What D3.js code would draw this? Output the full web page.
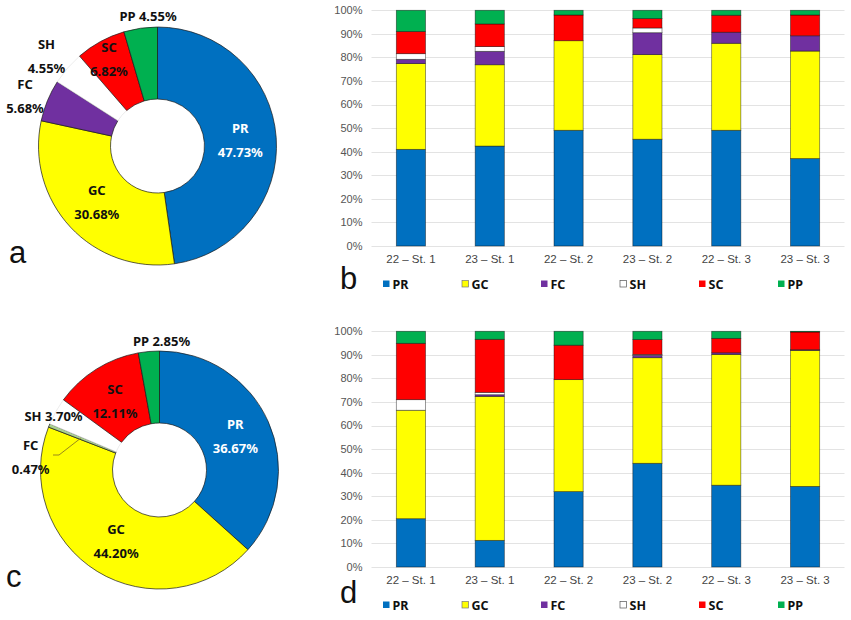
<!DOCTYPE html>
<html><head><meta charset="utf-8">
<script src="https://cdn.jsdelivr.net/npm/d3@7/dist/d3.min.js"></script>
<style>body{margin:0;background:#fff}svg{display:block}</style>
</head><body>
<svg id="c" width="851" height="620"></svg>
<script>
// ---------- data ----------
const groups = ["PR","GC","FC","SH","SC","PP"];
const groupColors = ["#0070C0","#FFFF00","#7030A0","#FFFFFF","#FF0000","#00B050"];
const pieA = [47.73, 30.68, 5.68, 4.55, 6.82, 4.55];
const pieC = [36.67, 44.20, 0.47, 3.70, 12.11, 2.85];
const stations = ["22 – St. 1","23 – St. 1","22 – St. 2","23 – St. 2","22 – St. 3","23 – St. 3"];
const yTicks = [0,10,20,30,40,50,60,70,80,90,100];
// panel b (per station, order PR,GC,FC,SH,SC,PP)
const barPR_b = [41.0, 42.4, 49.1, 45.3, 49.1, 37.1];
const barGC_b = [36.4, 34.5, 38.0, 35.9, 36.9, 45.6];
const barFC_b = [1.8, 5.7, 0.0, 9.3, 4.7, 6.5];
const barSH_b = [2.4, 2.0, 0.0, 2.0, 0.0, 0.0];
const barSC_b = [9.4, 9.6, 10.9, 4.0, 7.2, 8.8];
const barPP_b = [9.0, 5.8, 2.0, 3.5, 2.1, 2.0];
// panel d
const barPR_d = [20.5, 11.3, 32.0, 44.0, 34.7, 34.2];
const barGC_d = [46.0, 61.1, 47.5, 44.8, 55.5, 57.7];
const barFC_d = [0.0, 0.7, 0.0, 1.0, 0.7, 0.3];
const barSH_d = [4.5, 1.0, 0.0, 0.4, 0.0, 0.0];
const barSC_d = [23.9, 22.5, 14.6, 6.3, 6.1, 7.5];
const barPP_d = [5.1, 3.4, 5.9, 3.5, 3.0, 0.3];

const svg = d3.select("#c");
const F = "'Noto Sans', 'DejaVu Sans', sans-serif";

// ---------- donuts ----------
function donut(values, cx, cy, labelCfg, fcColor, leader) {
  const g = svg.append("g").attr("transform", `translate(${cx},${cy})`);
  const pie = d3.pie().sort(null).value(d => d)(values);
  const arc = d3.arc().innerRadius(47).outerRadius(119);
  const cols = groupColors.slice(); if (fcColor) cols[2] = fcColor;
  g.selectAll("path").data(pie).join("path")
    .attr("d", arc)
    .attr("fill", (d,i) => cols[i])
    .attr("stroke", (d,i) => i === 3 ? "#e4e4e4" : "#1a1a1a")
    .attr("stroke-width", 0.7);
  if (leader) {
    const p = d3.arc().innerRadius(85).outerRadius(85).centroid(pie[2]);
    g.append("polyline")
      .attr("points", [[leader[0][0],leader[0][1]],[leader[1][0],leader[1][1]],p].map(q=>q.join(",")).join(" "))
      .attr("fill","none").attr("stroke","#8c7a1e").attr("stroke-width",0.9);
  }
  const inner = d3.arc().innerRadius(83).outerRadius(83);
  labelCfg.forEach((cfg, i) => {
    let x, y;
    if (cfg.pos) { x = cfg.pos[0]; y = cfg.pos[1]; }
    else { [x, y] = inner.centroid(pie[i]); }
    const pct = values[i].toFixed(2) + "%";
    const t = g.append("text").attr("x", x).attr("y", y)
      .attr("text-anchor","middle").attr("font-family",F).attr("font-weight","bold")
      .attr("font-size", 13).attr("fill", cfg.color || "#111");
    if (cfg.one) {
      t.attr("dy","0.35em").text(groups[i] + " " + pct);
    } else {
      t.append("tspan").attr("x",x).attr("dy","-0.55em").text(groups[i]);
      t.append("tspan").attr("x",x).attr("dy","1.85em").text(pct);
    }
  });
}

donut(pieA, 157.5, 146, [
  {color:"#fff"}, {}, {pos:[-132.5,-50]}, {pos:[-111,-90]}, {pos:[-48.5,-86.5]}, {pos:[-9.5,-130], one:true}
]);
donut(pieC, 159.5, 470, [
  {color:"#fff"}, {}, {pos:[-128.8,-13.3]}, {pos:[-106,-54], one:true}, {pos:[-44.5,-69]}, {pos:[2,-129], one:true}
], "#A9D18E", [[-106.5,-15],[-100.5,-15]]);

// ---------- stacked bars ----------
function bars(series, top, bottom) {
  const x = d3.scaleBand().domain(stations).range([371.5, 844.5]).paddingInner(0.63).paddingOuter(0.315);
  const y = d3.scaleLinear().domain([0,100]).range([bottom, top]);
  const g = svg.append("g");
  g.selectAll("line.grid").data(yTicks).join("line")
    .attr("x1", 371.5).attr("x2", 844.5)
    .attr("y1", d => Math.round(y(d))+0.5).attr("y2", d => Math.round(y(d))+0.5)
    .attr("stroke","#e3e3e3").attr("stroke-width",1);
  g.selectAll("text.yt").data(yTicks).join("text")
    .attr("x", 362.5).attr("y", d => y(d)).attr("dy","0.35em")
    .attr("text-anchor","end").attr("font-family","'Liberation Sans', Arial, sans-serif")
    .attr("font-size", 11).attr("fill","#555").text(d => d + "%");
  g.selectAll("text.xt").data(stations).join("text")
    .attr("x", d => x(d) + x.bandwidth()/2).attr("y", bottom + 13).attr("dy","0.35em")
    .attr("text-anchor","middle").attr("font-family","'Liberation Sans', Arial, sans-serif")
    .attr("font-size", 11.5).attr("fill","#444").text(d => d);
  const rows = stations.map((s, j) => {
    const o = {station: s}; groups.forEach((k, i) => o[k] = series[i][j]); return o;
  });
  const stack = d3.stack().keys(groups)(rows);
  stack.forEach((layer, i) => {
    g.selectAll(null).data(layer.filter(d => d[1]-d[0] > 0)).join("rect")
      .attr("x", d => x(d.data.station)).attr("width", x.bandwidth())
      .attr("y", d => y(d[1])).attr("height", d => y(d[0]) - y(d[1]))
      .attr("fill", groupColors[i])
      .attr("stroke", "rgba(0,0,0,0.5)").attr("stroke-width", 0.8);
  });
  // legend
  const lg = g.append("g");
  groups.forEach((k, i) => {
    const lx = 383 + i * 79, ly = bottom + 38;
    lg.append("rect").attr("x", lx).attr("y", ly - 3.5).attr("width", 6.5).attr("height", 6.5)
      .attr("fill", groupColors[i]).attr("stroke", i === 3 ? "#555" : (i===1 ? "#777" : "none")).attr("stroke-width", 0.7);
    lg.append("text").attr("x", lx + 9.5).attr("y", ly).attr("dy","0.36em")
      .attr("font-family",F).attr("font-weight","bold").attr("font-size",12.5).attr("fill","#111").text(k);
  });
}
bars([barPR_b, barGC_b, barFC_b, barSH_b, barSC_b, barPP_b], 10.3, 246);
bars([barPR_d, barGC_d, barFC_d, barSH_d, barSC_d, barPP_d], 331.3, 567);

// ---------- panel letters ----------
const letters = [["a",9,263],["b",340,289],["c",6,587],["d",340,602.5]];
svg.selectAll("text.pl").data(letters).join("text")
  .attr("x", d => d[1]).attr("y", d => d[2]).attr("font-family","'Liberation Sans', Arial, sans-serif")
  .attr("font-size", 31).attr("fill","#111").text(d => d[0]);
</script>
</body></html>
